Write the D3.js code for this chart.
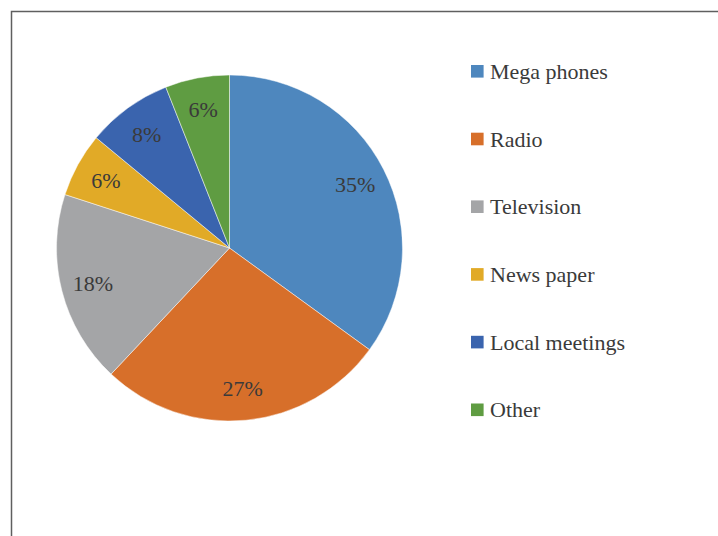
<!DOCTYPE html>
<html>
<head>
<meta charset="utf-8">
<script src="https://cdn.jsdelivr.net/npm/d3@7"></script>
<style>
  html, body { margin: 0; padding: 0; background: #ffffff; }
  svg { display: block; }
</style>
</head>
<body>
<div id="chart"></div>
<script>
// Communication channels, share of respondents (%)
const categories = ["Mega phones", "Radio", "Television", "News paper", "Local meetings", "Other"];
const shares = [35, 27, 18, 6, 8, 6];
const colors = ["#4E87BE", "#D76F2A", "#A4A5A7", "#E1AA27", "#3A64AE", "#5F9C42"];

const width = 718, height = 536;
const svg = d3.select("#chart").append("svg")
  .attr("width", width)
  .attr("height", height);

// chart frame (runs off the right and bottom edges)
svg.append("rect")
  .attr("x", 11.5).attr("y", 11.5)
  .attr("width", 740).attr("height", 560)
  .attr("fill", "#ffffff")
  .attr("stroke", "#5f5f5f")
  .attr("stroke-width", 1.5);

const cx = 229.5, cy = 248, r = 173;
const data = categories.map((c, i) => ({ name: c, value: shares[i], color: colors[i] }));

const pie = d3.pie().value(d => d.value).sort(null);
const arc = d3.arc().innerRadius(0).outerRadius(r);
const labelArc = d3.arc().innerRadius(141).outerRadius(141);

const g = svg.append("g").attr("transform", `translate(${cx},${cy})`);
const arcs = pie(data);

g.selectAll("path.slice")
  .data(arcs)
  .join("path")
  .attr("class", "slice")
  .attr("d", arc)
  .attr("fill", d => d.data.color)
  .attr("stroke", "#ffffff")
  .attr("stroke-opacity", 0.6)
  .attr("stroke-width", 0.8);

g.selectAll("text.pct")
  .data(arcs)
  .join("text")
  .attr("class", "pct")
  .attr("transform", d => `translate(${labelArc.centroid(d)})`)
  .attr("text-anchor", "middle")
  .attr("dy", "0.35em")
  .attr("font-family", "'Liberation Serif', 'DejaVu Serif', serif")
  .attr("font-size", 22)
  .attr("fill", "#3a3a3a")
  .text(d => d.data.value + "%");

// legend
const legend = svg.append("g").attr("transform", "translate(471,71.3)");
const step = 67.7;
const items = legend.selectAll("g.item")
  .data(data)
  .join("g")
  .attr("class", "item")
  .attr("transform", (d, i) => `translate(0,${i * step})`);

items.append("rect")
  .attr("x", 0).attr("y", -6.3)
  .attr("width", 12.6).attr("height", 12.6)
  .attr("fill", d => d.color);

items.append("text")
  .attr("x", 19).attr("y", 7.6)
  .attr("font-family", "'Liberation Serif', 'DejaVu Serif', serif")
  .attr("font-size", 22)
  .attr("fill", "#3a3a3a")
  .text(d => d.name);
</script>
</body>
</html>
